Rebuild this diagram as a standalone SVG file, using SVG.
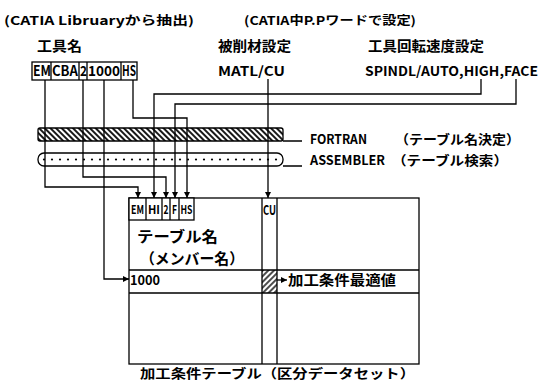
<svg xmlns="http://www.w3.org/2000/svg" width="541" height="383" viewBox="0 0 541 383">
<style>
.t{font-family:"Noto Sans CJK JP","Liberation Sans",sans-serif;font-weight:700;fill:#000}
.ln{fill:none;stroke:#000;stroke-width:1.3}
.bx{fill:#fff;stroke:#000;stroke-width:1.3}
</style>
<defs>
<marker id="ar" viewBox="0 0 8 8" refX="8" refY="4" markerWidth="6" markerHeight="6" markerUnits="userSpaceOnUse" orient="auto">
<path d="M0,0 L8,4 L0,8 Z" fill="#000"/>
</marker>
<pattern id="hb" width="4" height="4" patternUnits="userSpaceOnUse" patternTransform="rotate(-45)">
<rect width="4" height="4" fill="#fff"/><line x1="1" y1="0" x2="1" y2="4" stroke="#000" stroke-width="1.8"/>
</pattern>
<pattern id="hc" width="4" height="4" patternUnits="userSpaceOnUse" patternTransform="rotate(45)">
<rect width="4" height="4" fill="#fff"/><line x1="1" y1="0" x2="1" y2="4" stroke="#000" stroke-width="1.4"/>
</pattern>
<pattern id="dt" width="8" height="13" patternUnits="userSpaceOnUse" x="40" y="153">
<rect width="8" height="13" fill="#fff"/><circle cx="4" cy="6.5" r="1.1" fill="#000"/>
</pattern>
</defs>

<g id="labels-top">
<text class="t" x="4" y="25" font-size="12" textLength="190" lengthAdjust="spacingAndGlyphs">(CATIA Libruaryから抽出)</text>
<text class="t" x="244" y="25" font-size="12" textLength="172" lengthAdjust="spacingAndGlyphs">(CATIA中P.Pワードで設定)</text>
</g>

<g id="tool-name">
<text class="t" x="37" y="51" font-size="14" textLength="45" lengthAdjust="spacingAndGlyphs">工具名</text>
<rect class="bx" x="32" y="62" width="105" height="18"/>
<path class="ln" d="M51,62V80M79,62V80M87,62V80M121,62V80"/>
<text class="t" x="33" y="76" font-size="14" textLength="18" lengthAdjust="spacingAndGlyphs">EM</text>
<text class="t" x="52" y="76" font-size="14" textLength="26" lengthAdjust="spacingAndGlyphs">CBA</text>
<text class="t" x="80" y="76" font-size="14" textLength="7" lengthAdjust="spacingAndGlyphs">2</text>
<text class="t" x="88" y="76" font-size="14" textLength="32" lengthAdjust="spacingAndGlyphs">1000</text>
<text class="t" x="122" y="76" font-size="14" textLength="14" lengthAdjust="spacingAndGlyphs">HS</text>
</g>

<g id="material">
<text class="t" x="218" y="51" font-size="14" textLength="73" lengthAdjust="spacingAndGlyphs">被削材設定</text>
<text class="t" x="218" y="76" font-size="13" textLength="67" lengthAdjust="spacingAndGlyphs">MATL/CU</text>
</g>

<g id="spindle">
<text class="t" x="368" y="51" font-size="14" textLength="116" lengthAdjust="spacingAndGlyphs">工具回転速度設定</text>
<text class="t" x="365" y="76" font-size="13" textLength="173" lengthAdjust="spacingAndGlyphs">SPINDL/AUTO,HIGH,FACE</text>
</g>

<g id="fortran">
<rect x="38" y="128" width="245" height="13" rx="2" fill="url(#hb)" stroke="#000" stroke-width="1.3"/>
<text class="t" x="310" y="144" font-size="13" textLength="57" lengthAdjust="spacingAndGlyphs">FORTRAN</text>
<text class="t" x="395" y="144" font-size="13" textLength="125" lengthAdjust="spacingAndGlyphs">（テーブル名決定）</text>
</g>

<g id="assembler">
<rect x="38" y="153" width="245" height="13" rx="6" fill="url(#dt)" stroke="#000" stroke-width="1.3"/>
<text class="t" x="310" y="165" font-size="13" textLength="75" lengthAdjust="spacingAndGlyphs">ASSEMBLER</text>
<text class="t" x="392" y="165" font-size="13" textLength="116" lengthAdjust="spacingAndGlyphs">（テーブル検索）</text>
</g>

<g id="table">
<rect class="bx" x="129" y="198" width="290" height="166"/>
<rect x="262" y="270" width="15" height="23" fill="url(#hc)"/>
<path class="ln" d="M262,198V364M277,198V364M129,270H419M129,293H419"/>
<rect class="bx" x="129" y="198" width="65" height="22"/>
<path class="ln" d="M146,198V220M162,198V220M170,198V220M179,198V220"/>
<text class="t" x="131" y="214" font-size="12" textLength="13" lengthAdjust="spacingAndGlyphs">EM</text>
<text class="t" x="148" y="214" font-size="12" textLength="12" lengthAdjust="spacingAndGlyphs">HI</text>
<text class="t" x="163.5" y="214" font-size="12" textLength="5" lengthAdjust="spacingAndGlyphs">2</text>
<text class="t" x="172" y="214" font-size="12" textLength="5" lengthAdjust="spacingAndGlyphs">F</text>
<text class="t" x="180.5" y="214" font-size="12" textLength="12" lengthAdjust="spacingAndGlyphs">HS</text>
<text class="t" x="263" y="215" font-size="13" textLength="13" lengthAdjust="spacingAndGlyphs">CU</text>
<text class="t" x="137" y="242" font-size="15" textLength="81" lengthAdjust="spacingAndGlyphs">テーブル名</text>
<text class="t" x="140" y="264" font-size="15" textLength="104" lengthAdjust="spacingAndGlyphs">（メンバー名）</text>
<text class="t" x="130" y="285" font-size="13" textLength="30" lengthAdjust="spacingAndGlyphs">1000</text>
<text class="t" x="288" y="285" font-size="14" textLength="108" lengthAdjust="spacingAndGlyphs">加工条件最適値</text>
<text class="t" x="140" y="378" font-size="13" textLength="275" lengthAdjust="spacingAndGlyphs">加工条件テーブル（区分データセット）</text>
</g>

<g id="connectors">
<path class="ln" d="M45,80V187H138V198" marker-end="url(#ar)"/>
<path class="ln" d="M83,80V177H166V198" marker-end="url(#ar)"/>
<path class="ln" d="M104,80V279H129" marker-end="url(#ar)"/>
<path class="ln" d="M133,80V118H187V198" marker-end="url(#ar)"/>
<path class="ln" d="M481,79V94H154V198" marker-end="url(#ar)"/>
<path class="ln" d="M516,79V104H175V198" marker-end="url(#ar)"/>
<path class="ln" d="M268,79V198" marker-end="url(#ar)"/>
<path class="ln" d="M277,280H287" marker-end="url(#ar)"/>
<path class="ln" d="M283,141H302M283,166H302"/>
</g>
</svg>
